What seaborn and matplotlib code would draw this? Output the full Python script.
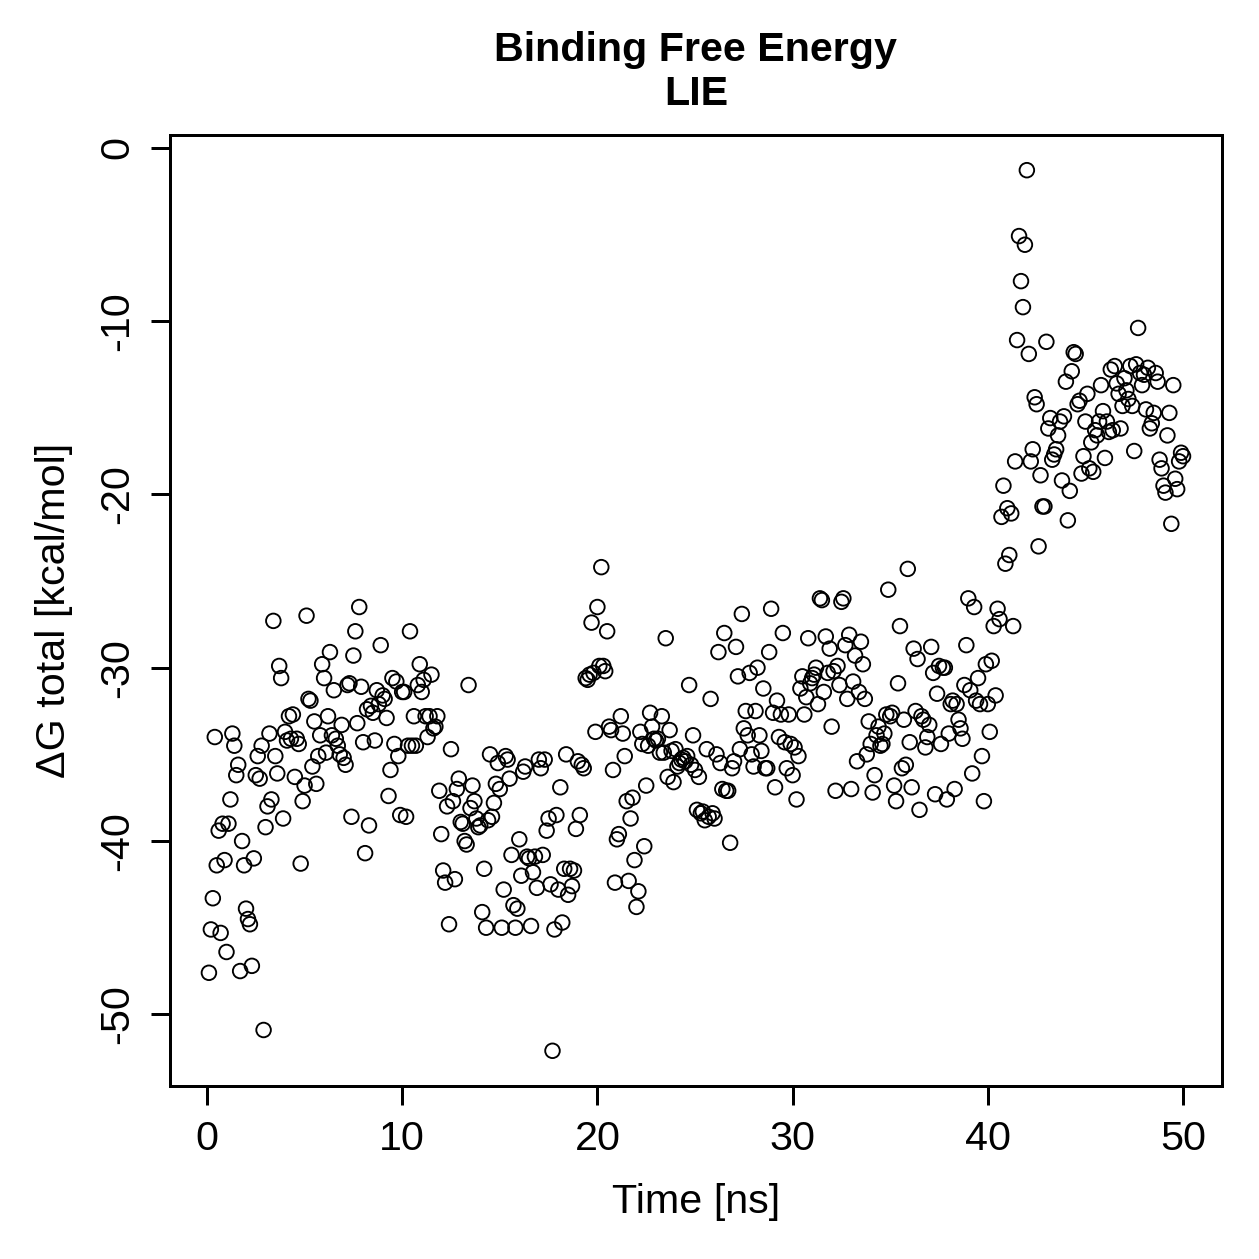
import matplotlib
matplotlib.use("Agg")
import matplotlib.pyplot as plt
import seaborn as sns
import pandas as pd

# Delta G total [kcal/mol], one value every 0.1 ns
dg_00_05 = [-47.6, -45.1, -43.3, -34.0, -41.4, -39.4, -45.3, -39.0, -41.1, -46.4,
            -39.0, -37.6, -33.8, -34.5, -36.2, -35.6, -47.5, -40.0, -41.4, -43.9,
            -44.5, -44.8, -47.2, -41.0, -36.2, -35.1, -36.4, -34.5, -50.9, -39.2,
            -38.0, -33.8, -37.6, -27.3, -35.1, -36.1, -29.9, -30.6, -38.7, -33.7,
            -34.2, -32.8, -34.1, -32.7, -36.3, -34.1, -34.4, -41.3, -37.7, -36.8]
dg_05_10 = [-27.0, -31.8, -31.9, -35.7, -33.1, -36.7, -35.1, -33.9, -29.8, -30.6,
            -34.9, -32.8, -29.1, -33.9, -31.3, -34.1, -34.5, -35.0, -33.3, -35.2,
            -35.6, -31.0, -30.9, -38.6, -29.3, -27.9, -33.2, -26.5, -31.1, -34.3,
            -40.7, -32.4, -39.1, -32.2, -32.6, -34.2, -31.3, -32.1, -28.7, -31.6,
            -31.8, -32.9, -37.4, -35.9, -30.6, -34.4, -30.8, -35.1, -38.5, -31.4]
dg_10_15 = [-31.4, -38.6, -34.5, -27.9, -34.5, -32.8, -34.5, -31.0, -29.8, -31.4,
            -30.7, -32.8, -34.0, -32.8, -30.4, -33.5, -33.4, -32.8, -37.1, -39.6,
            -41.7, -42.4, -38.0, -44.8, -34.7, -37.7, -42.2, -37.0, -36.4, -38.9,
            -39.0, -40.0, -40.2, -31.0, -38.1, -36.8, -37.7, -38.7, -39.2, -39.1,
            -44.1, -41.6, -45.0, -38.8, -35.0, -38.6, -37.8, -36.7, -35.5, -37.0]
dg_15_20 = [-45.0, -42.8, -35.1, -35.3, -36.4, -40.8, -43.7, -45.0, -43.9, -39.9,
            -42.0, -36.0, -35.7, -40.9, -41.0, -44.9, -41.8, -40.9, -42.7, -35.3,
            -35.8, -40.8, -35.3, -39.4, -38.7, -42.5, -52.1, -45.1, -38.5, -42.8,
            -36.9, -44.7, -41.6, -35.0, -43.1, -41.6, -42.6, -41.7, -39.3, -35.4,
            -38.5, -35.6, -35.8, -30.6, -30.7, -30.4, -27.4, -30.3, -33.7, -26.5,
            -29.9, -24.2]
dg_20_25 = [-29.9, -30.2, -27.9, -33.4, -33.6, -35.9, -42.4, -39.9, -39.6, -32.8,
            -33.8, -35.1, -37.7, -42.3, -38.7, -37.5, -41.1, -43.8, -42.9, -33.7,
            -34.4, -40.3, -36.8, -34.5, -32.6, -33.4, -34.1, -34.2, -34.1, -34.9,
            -32.8, -34.9, -28.3, -36.3, -33.6, -34.8, -36.6, -34.7, -35.7, -35.5,
            -35.3, -35.2, -35.4, -35.1, -31.0, -35.6, -33.9, -35.9, -38.2, -36.3,
            -38.4, -38.3]
dg_25_30 = [-38.8, -34.7, -38.6, -31.8, -38.4, -38.7, -35.0, -29.1, -35.5, -37.0,
            -28.0, -37.1, -37.1, -40.1, -35.8, -35.4, -28.8, -30.5, -34.7, -26.9,
            -33.5, -32.5, -33.9, -30.3, -35.0, -35.7, -32.5, -30.0, -33.9, -34.8,
            -31.2, -35.8, -35.8, -29.1, -26.6, -32.6, -36.9, -31.9, -34.0, -32.7,
            -28.0, -34.3, -35.8, -32.7, -34.4, -36.2, -34.6, -37.6, -35.1, -31.2,
            -30.5]
dg_30_35 = [-32.7, -31.7, -28.3, -30.9, -30.6, -30.4, -30.0, -32.1, -26.0, -26.1,
            -31.4, -28.2, -30.3, -28.9, -33.4, -30.2, -37.1, -29.9, -31.0, -26.2,
            -26.0, -28.7, -31.8, -28.1, -37.0, -30.8, -29.3, -35.4, -31.4, -28.5,
            -29.8, -31.8, -35.0, -33.1, -34.4, -37.2, -36.2, -33.9, -33.4, -34.5,
            -34.4, -33.8, -32.7, -25.5, -32.8, -32.6, -36.8, -37.7, -30.9, -27.6]
dg_35_40 = [-35.8, -33.0, -35.6, -24.3, -34.3, -36.9, -28.9, -32.5, -29.5, -38.2,
            -32.8, -33.0, -34.6, -34.0, -33.3, -28.8, -30.3, -37.3, -31.5, -29.9,
            -34.4, -30.0, -30.0, -37.6, -33.8, -32.1, -31.9, -37.0, -32.1, -33.0,
            -33.5, -34.1, -31.0, -28.7, -26.0, -31.3, -36.1, -26.5, -31.9, -30.6,
            -32.1, -35.1, -37.7, -29.8, -32.1, -33.7, -29.6, -27.6, -31.6, -26.6,
            -27.2]
dg_40_45 = [-21.3, -19.5, -24.0, -20.8, -23.5, -21.1, -27.6, -18.1, -11.1, -5.1,
            -7.7, -9.2, -5.6, -1.3, -11.9, -18.1, -17.4, -14.4, -14.8,
            -23.0, -18.9, -20.7, -20.7, -11.2, -16.2, -15.6, -18.0, -17.7, -17.4,
            -16.6, -15.8, -19.2, -15.5, -13.5, -21.5, -19.8, -12.9, -11.8, -11.9,
            -14.8, -14.6, -18.8, -17.8, -15.8, -14.2, -18.5, -17.0, -18.7]
dg_45_50 = [-16.3, -16.6, -15.8, -13.7, -15.2, -17.9, -15.8, -16.4, -12.8,
            -16.3, -12.6, -13.6, -14.2, -16.2, -14.9, -13.3, -14.0, -14.5, -12.6,
            -14.9, -17.5, -12.5, -10.4, -13.0, -13.7, -13.1, -15.1, -12.7,
            -16.2, -15.9, -15.3, -13.0, -13.5, -18.0, -18.5, -19.5, -19.9,
            -16.6, -15.3, -21.7, -13.7, -19.1, -19.7, -18.1, -17.6, -17.8]

dg_total = (dg_00_05 + dg_05_10 + dg_10_15 + dg_15_20 + dg_20_25 +
            dg_25_30 + dg_30_35 + dg_35_40 + dg_40_45 + dg_45_50)
time_step_ns = 0.1
time_ns = [round(time_step_ns * (i + 1), 1) for i in range(len(dg_total))]

x_ticks = [0, 10, 20, 30, 40, 50]
y_ticks = [0, -10, -20, -30, -40, -50]

title_text = "Binding Free Energy\nLIE"
x_label = "Time [ns]"
y_label = "\u0394G total [kcal/mol]"

df = pd.DataFrame({"time": time_ns, "dg": dg_total})

sns.set_style("white")
plt.rcParams["font.family"] = ["Liberation Sans", "DejaVu Sans"]
for key in ["text.color", "axes.labelcolor", "xtick.color", "ytick.color"]:
    plt.rcParams[key] = "black"

FS = 16.5

fig = plt.figure(figsize=(1259 / 180, 1259 / 180), dpi=180)
ax = fig.add_axes([0.135, 0.1374, 0.9706 - 0.135, 0.8928 - 0.1374])

sns.scatterplot(data=df, x="time", y="dg", ax=ax, marker="o", s=34,
                facecolors="none", edgecolor="black", linewidth=0.75,
                legend=False)

# R-style 4% padding
xmin, xmax = min(time_ns), max(time_ns)
ymin, ymax = min(dg_total), max(dg_total)
xp = (xmax - xmin) * 0.04
yp = (ymax - ymin) * 0.04
ax.set_xlim(xmin - xp, xmax + xp)
ax.set_ylim(ymin - yp, ymax + yp)

ax.set_xticks(x_ticks)
ax.set_yticks(y_ticks)
ax.set_xticklabels([str(t) for t in x_ticks], fontsize=FS)
ax.set_yticklabels([str(t) for t in y_ticks], fontsize=FS, rotation=90,
                   va="center")
ax.tick_params(axis="both", which="major", direction="out", length=7.5,
               width=1.2, color="black", pad=6, bottom=True, left=True,
               top=False, right=False)
for sp in ax.spines.values():
    sp.set_visible(True)
    sp.set_linewidth(1.2)
    sp.set_color("black")

ax.set_xlabel(x_label, fontsize=FS, labelpad=10)
ax.set_ylabel(y_label, fontsize=FS, labelpad=10)
ax.set_title(title_text, fontsize=FS, fontweight="bold", pad=12,
             linespacing=1.2)

fig.savefig("out.png", dpi=180)
